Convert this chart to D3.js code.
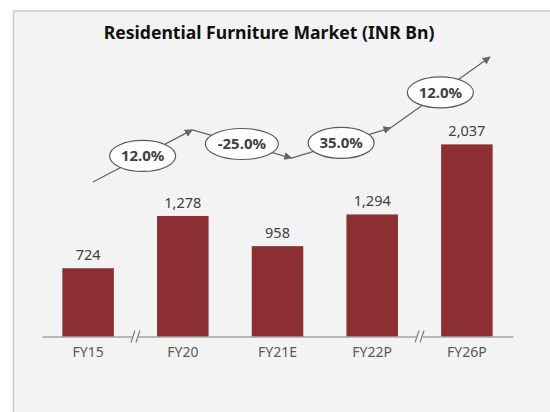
<!DOCTYPE html>
<html>
<head>
<meta charset="utf-8">
<script src="https://cdn.jsdelivr.net/npm/d3@7"></script>
<style>
  body { margin: 0; background: #fff; }
  svg { display: block; font-family: "Noto Sans", "Open Sans", sans-serif; }
</style>
</head>
<body>
<svg id="chart" width="550" height="412"></svg>
<script>
const width = 550;
const height = 412;

// Chart data
const categories = ["FY15", "FY20", "FY21E", "FY22P", "FY26P"];
const marketSize = [724, 1278, 958, 1294, 2037];
const growthLabels = ["12.0%", "-25.0%", "35.0%", "12.0%"];
// relative height of the trend arrow at each year (visual only)
const trendLevels = [0, 1.0, 0.46, 1.04, 2.4];
const breakAfter = ["FY15", "FY22P"];

const svg = d3.select("#chart");

// background panel
svg.append("rect")
  .attr("x", 13.5).attr("y", 11)
  .attr("width", width).attr("height", height)
  .attr("fill", "#f3f3f3")
  .attr("stroke", "#c9c9c9")
  .attr("stroke-width", 1.5);

// title
svg.append("text")
  .attr("x", 269).attr("y", 39)
  .attr("text-anchor", "middle")
  .attr("font-size", 17.6)
  .attr("font-weight", "bold")
  .attr("fill", "#111")
  .text("Residential Furniture Market (INR Bn)");

// scales
const x = d3.scaleBand()
  .domain(categories)
  .range([42, 513])
  .paddingInner(0.456)
  .paddingOuter(0.215);

const y = d3.scaleLinear()
  .domain([0, 2200])
  .range([336.5, 129]);

// bars
svg.selectAll("rect.bar")
  .data(categories)
  .enter()
  .append("rect")
  .attr("class", "bar")
  .attr("x", d => x(d))
  .attr("width", x.bandwidth())
  .attr("y", (d, i) => y(marketSize[i]))
  .attr("height", (d, i) => y(0) - y(marketSize[i]))
  .attr("fill", "#8c2f33");

// value labels
svg.selectAll("text.val")
  .data(categories)
  .enter()
  .append("text")
  .attr("class", "val")
  .attr("x", d => x(d) + x.bandwidth() / 2)
  .attr("y", (d, i) => y(marketSize[i]) - 8)
  .attr("text-anchor", "middle")
  .attr("font-size", 14.5)
  .attr("fill", "#404040")
  .text((d, i) => d3.format(",")(marketSize[i]));

// x axis
const xAxis = svg.append("g")
  .attr("transform", `translate(0,${y(0)})`)
  .call(d3.axisBottom(x).tickSize(0).tickPadding(11));
xAxis.select(".domain").attr("stroke", "#7f7f7f").attr("stroke-width", 1.2);
xAxis.selectAll("text")
  .attr("font-family", "Noto Sans, Open Sans, sans-serif")
  .attr("font-size", 14)
  .attr("fill", "#595959");

// axis break marks "//"
breakAfter.forEach(c => {
  const bx = x(c) + x.bandwidth() + x.step() * x.paddingInner() / 2;
  const g = svg.append("g").attr("transform", `translate(${bx},${y(0)})`);
  g.append("rect").attr("x", -3).attr("y", -2).attr("width", 6).attr("height", 4).attr("fill", "#f3f3f3");
  [-2.5, 2.5].forEach(dx => {
    g.append("line")
      .attr("x1", dx - 2).attr("y1", 6)
      .attr("x2", dx + 2).attr("y2", -6)
      .attr("stroke", "#7f7f7f").attr("stroke-width", 1.2);
  });
});

// growth trend arrows
const ax = d3.scalePoint().domain(categories).range([93, 490]);
const ay = d3.scaleLinear().domain([0, 2.4]).range([182, 57]);

svg.append("defs").append("marker")
  .attr("id", "arrowhead")
  .attr("viewBox", "0 0 10 10")
  .attr("refX", 9).attr("refY", 5)
  .attr("markerWidth", 8).attr("markerHeight", 8)
  .attr("markerUnits", "userSpaceOnUse")
  .attr("orient", "auto")
  .append("path")
  .attr("d", "M0,0 L10,5 L0,10 z")
  .attr("fill", "#666");

const segments = growthLabels.map((lbl, i) => ({
  lbl,
  x1: ax(categories[i]), y1: ay(trendLevels[i]),
  x2: ax(categories[i + 1]), y2: ay(trendLevels[i + 1])
}));

svg.selectAll("line.trend")
  .data(segments)
  .enter()
  .append("line")
  .attr("class", "trend")
  .attr("x1", d => d.x1).attr("y1", d => d.y1)
  .attr("x2", d => d.x2).attr("y2", d => d.y2)
  .attr("stroke", "#666")
  .attr("stroke-width", 1.3)
  .attr("marker-end", "url(#arrowhead)");

const bubbles = svg.selectAll("g.bubble")
  .data(segments)
  .enter()
  .append("g")
  .attr("class", "bubble")
  .attr("transform", d => `translate(${(d.x1 + d.x2) / 2},${(d.y1 + d.y2) / 2})`);

bubbles.append("ellipse")
  .attr("rx", d => d.lbl.length > 5 ? 36.5 : 33)
  .attr("ry", 15.5)
  .attr("fill", "#fff")
  .attr("stroke", "#595959")
  .attr("stroke-width", 1.2);

bubbles.append("text")
  .attr("text-anchor", "middle")
  .attr("dy", "0.36em")
  .attr("font-size", 15)
  .attr("font-weight", "bold")
  .attr("fill", "#404040")
  .text(d => d.lbl);
</script>
</body>
</html>
